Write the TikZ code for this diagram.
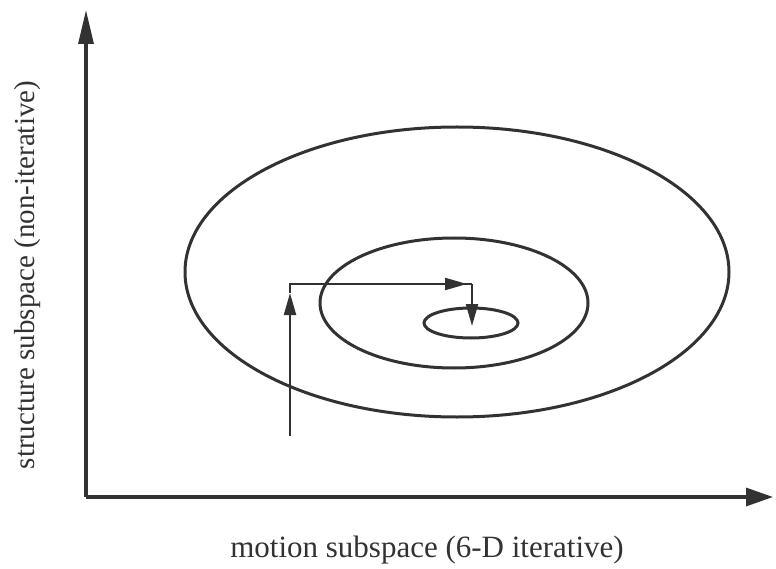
\documentclass[tikz,border=0pt]{standalone}
\usepackage{fontspec}
\setmainfont{Liberation Serif}
\usetikzlibrary{arrows.meta}
\definecolor{InkGray}{RGB}{50,50,50}

\begin{document}
\begin{tikzpicture}[
x=1pt,y=-1pt,
axis/.style={
line width=3.2pt,
draw=InkGray
},
ytip/.style={-{Triangle[length=34pt,width=15pt]}},
xtip/.style={-{Triangle[length=27pt,width=18pt]}},
orbit/.style={
line width=3pt,
draw=InkGray
},
path arrow/.style={
-{Triangle[length=22pt,width=12pt]},
line width=2.2pt,
draw=InkGray
},
path line/.style={
line width=2.2pt,
draw=InkGray
},
label/.style={
font=\fontsize{31}{34}\selectfont,
text=InkGray,
inner sep=0pt
}
]
\useasboundingbox (0,0) rectangle (776,569);

% axes
\coordinate (origin) at (86,497);
\coordinate (ytop) at (86,10);
\coordinate (xend) at (773,497);
\draw[axis,ytip] (origin) -- (ytop);
\draw[axis,xtip] (origin) -- (xend);

% level sets
\draw[orbit] (457,272) ellipse [x radius=272pt, y radius=145pt];
\draw[orbit] (454,303) ellipse [x radius=134pt, y radius=65pt];
\draw[orbit] (471,323) ellipse [x radius=47pt, y radius=15pt];

% search path
\coordinate (start) at (290,436);
\coordinate (up) at (290,293);
\coordinate (corner1) at (290,284);
\coordinate (right) at (467,284);
\coordinate (corner2) at (472,284);
\coordinate (down) at (472,326);
\draw[path arrow] (start) -- (up);
\draw[path line] (up) -- (corner1) -- (corner2);
\draw[path arrow] (corner1) -- (right);
\draw[path arrow] (corner2) -- (down);

% labels
\node[label] (xlabel) at (427,550) {motion subspace (6-D iterative)};
\node[label,rotate=90,font=\fontsize{29}{32}\selectfont] (ylabel) at (28,275) {structure subspace (non-iterative)};

\end{tikzpicture}
\end{document}
